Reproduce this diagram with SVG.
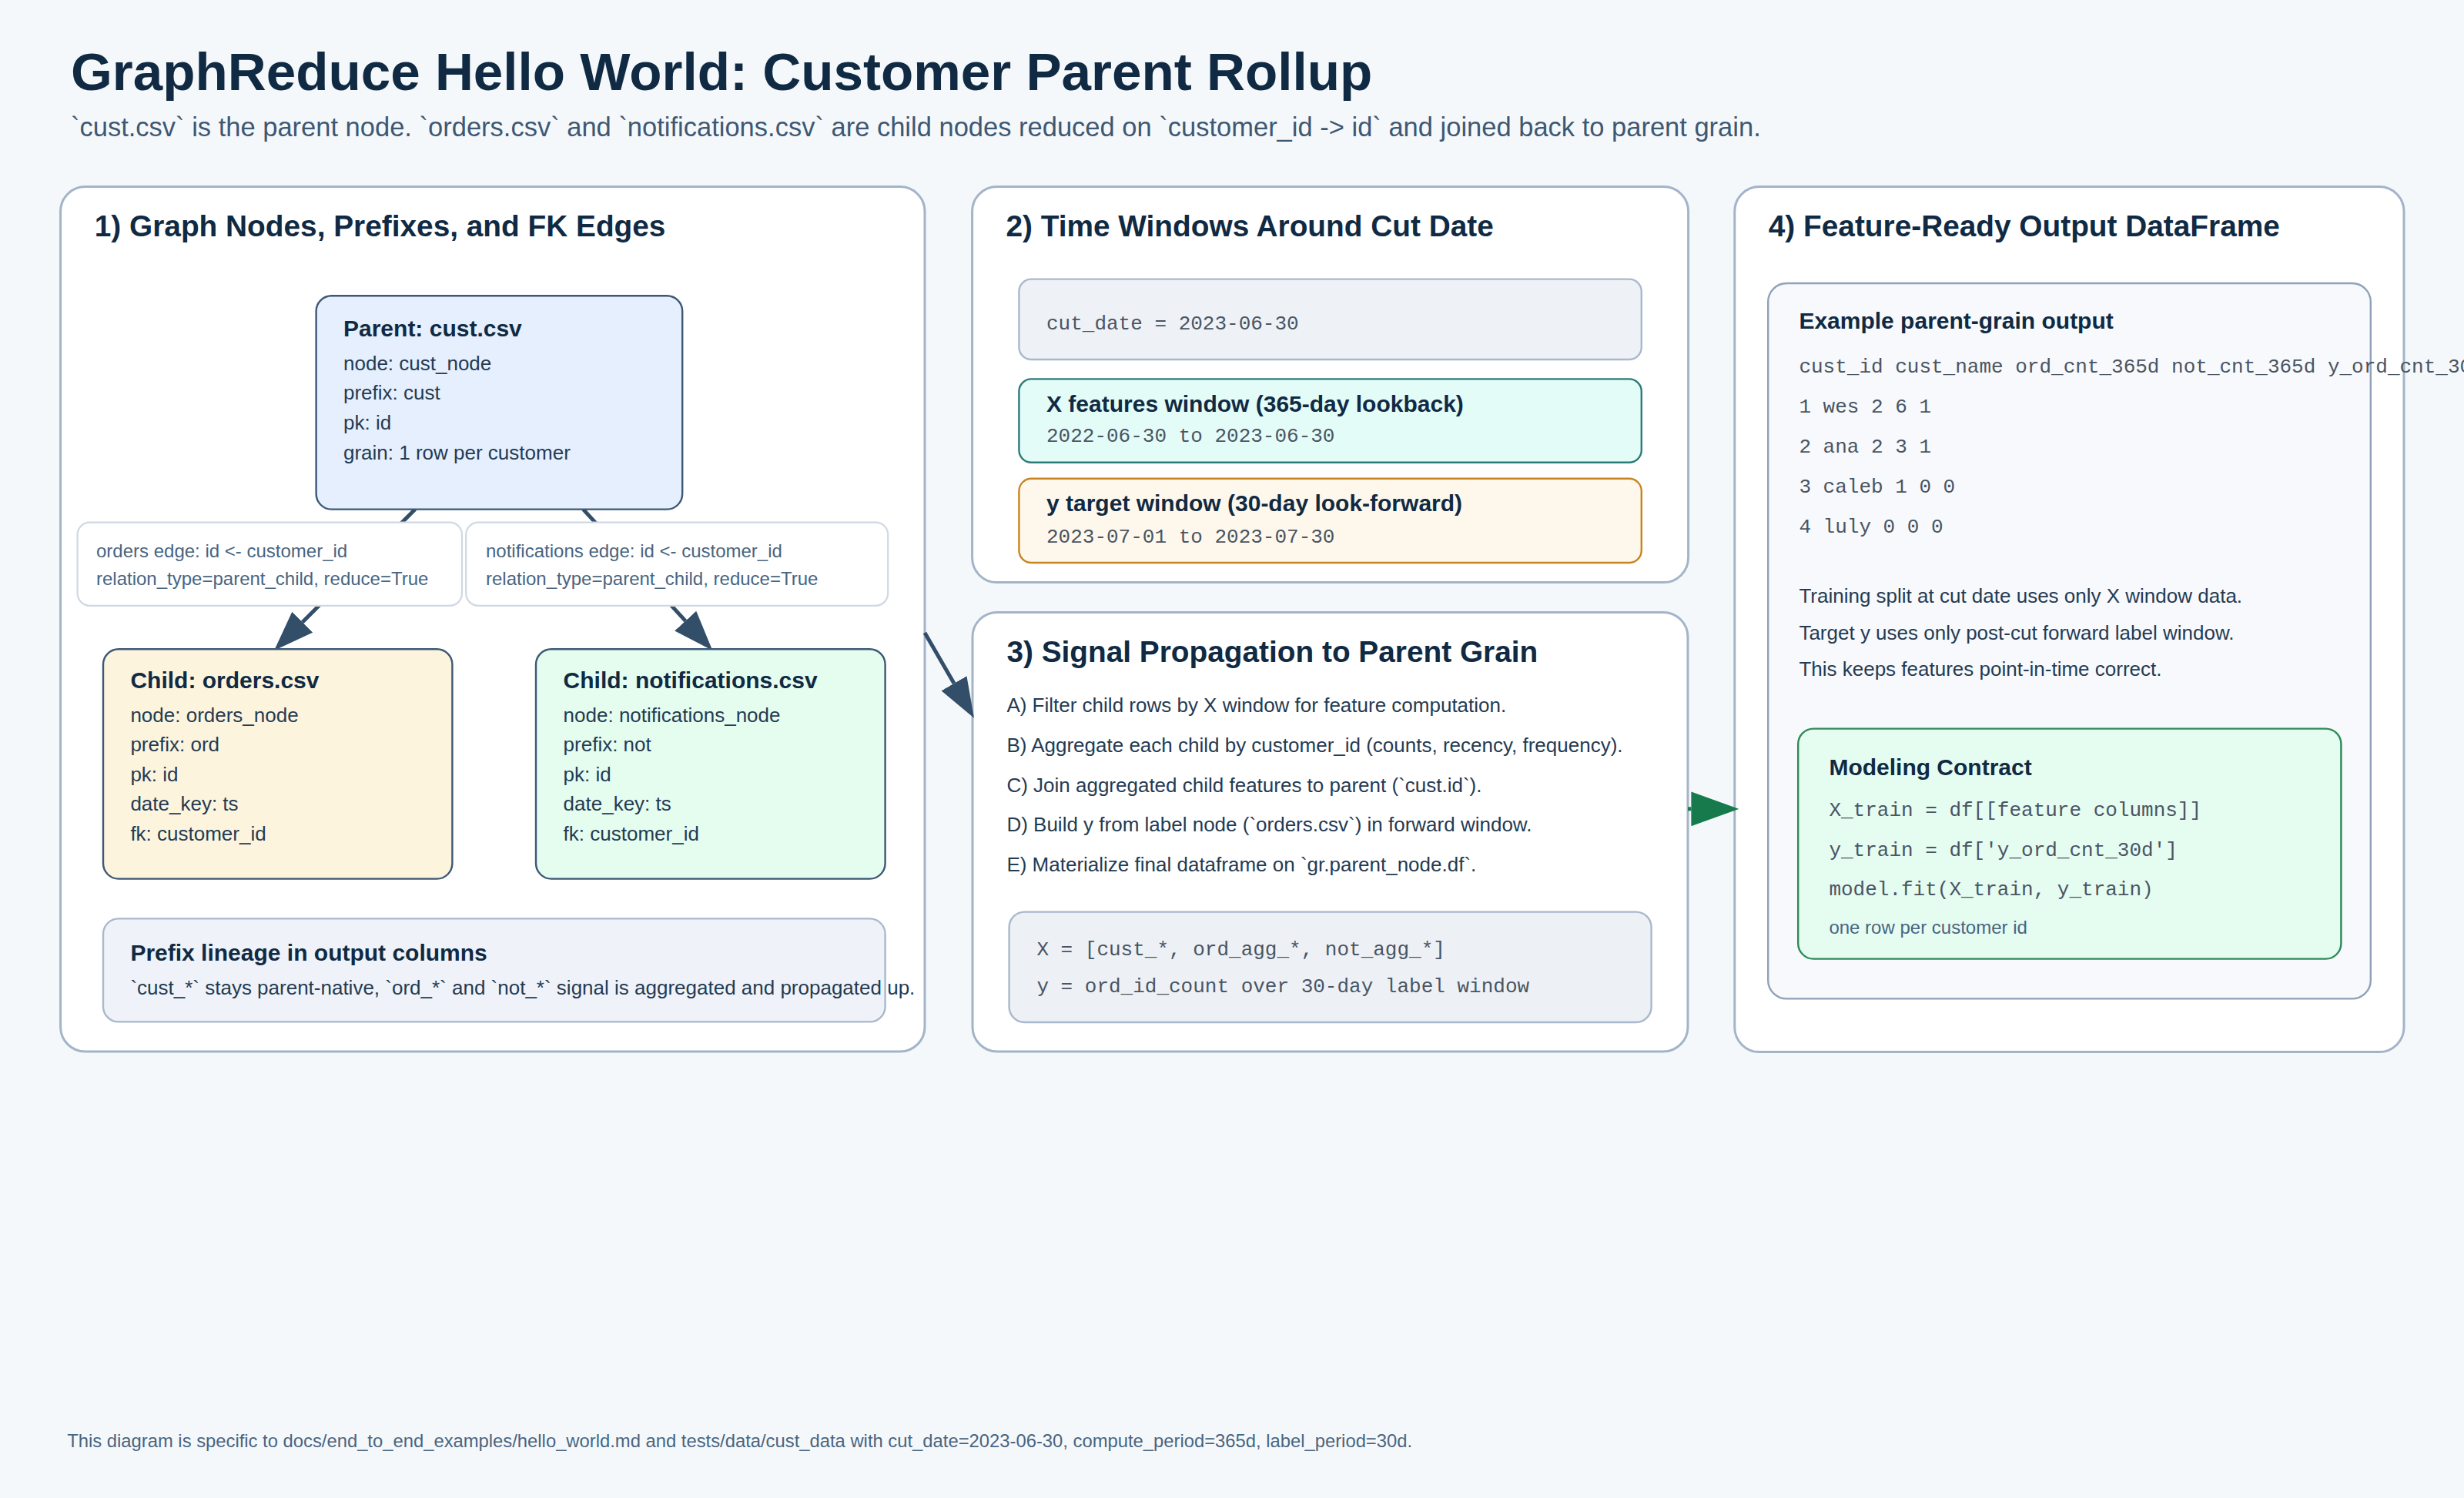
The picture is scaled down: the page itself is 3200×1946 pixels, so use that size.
<svg xmlns="http://www.w3.org/2000/svg" width="3200" height="1946" viewBox="0 0 3200 1946">
<defs>
<style>
.bg{fill:#f5f8fb}
.panel{fill:#ffffff;stroke:#a3b4c9;stroke-width:1.5}
.node{stroke:#3d5875;stroke-width:1.2}
.lbl{fill:#ffffff;stroke:#cfd8e3;stroke-width:1.1}
.soft{stroke:#a9b8cb;stroke-width:1.2}
.t{font-family:"Liberation Sans",Arial,sans-serif}
.m{font-family:"Liberation Mono","Courier New",monospace;font-size:13px;fill:#4a5563}
.title{font-size:34.6px;font-weight:bold;fill:#102a43}
.sub{font-size:17.25px;fill:#3e5874}
.h{font-size:19.4px;font-weight:bold;fill:#102a43}
.nt{font-size:15px;font-weight:bold;fill:#102a43}
.b{font-size:13px;fill:#243b53}
.e{font-size:12px;fill:#486581}
.foot{font-size:11.9px;fill:#486581}
.conn{fill:none;stroke:#334e68;stroke-width:2.5}
.conng{fill:none;stroke:#167a4c;stroke-width:2.5}
</style>
<marker id="ad" markerUnits="userSpaceOnUse" markerWidth="26" markerHeight="19" refX="0" refY="9.5" orient="auto" viewBox="0 0 26 19">
<path d="M0,0 L26,9.5 L0,19 Z" fill="#334e68"/>
</marker>
<marker id="ag" markerUnits="userSpaceOnUse" markerWidth="31" markerHeight="22.4" refX="0" refY="11.2" orient="auto" viewBox="0 0 31 22.4">
<path d="M0,0 L31,11.2 L0,22.4 Z" fill="#167a4c"/>
</marker>
</defs>
<g transform="scale(2)">
<rect class="bg" x="0" y="0" width="1600" height="973"/>
<g id="header">
<text class="t title" x="46" y="58.3">GraphReduce Hello World: Customer Parent Rollup</text>
<text class="t sub" x="46" y="88.3">`cust.csv` is the parent node. `orders.csv` and `notifications.csv` are child nodes reduced on `customer_id -&gt; id` and joined back to parent grain.</text>
</g>
<g id="panel1">
<rect class="panel" x="39.3" y="121.3" width="561.2" height="561.7" rx="16"/>
<text class="t h" x="61.4" y="153.3">1) Graph Nodes, Prefixes, and FK Edges</text>
</g>
<g id="panel2">
<rect class="panel" x="631.3" y="121.3" width="465" height="257" rx="16"/>
<text class="t h" x="653.2" y="153.3">2) Time Windows Around Cut Date</text>
</g>
<g id="panel3">
<rect class="panel" x="631.5" y="397.7" width="464.5" height="285.3" rx="16"/>
<text class="t h" x="653.7" y="430.2">3) Signal Propagation to Parent Grain</text>
</g>
<g id="panel4">
<rect class="panel" x="1126.4" y="121.3" width="434.6" height="562" rx="16"/>
<text class="t h" x="1148.4" y="153.3">4) Feature-Ready Output DataFrame</text>
</g>
<g id="connectors">
<line class="conn" x1="269.6" y1="330.8" x2="196.4" y2="404.1" marker-end="url(#ad)"/>
<line class="conn" x1="378.7" y1="330.8" x2="445.1" y2="403.3" marker-end="url(#ad)"/>
<line class="conn" x1="600.5" y1="411" x2="619.5" y2="443.9" marker-end="url(#ad)"/>
<line class="conng" x1="1096" y1="525.4" x2="1098.2" y2="525.4" marker-end="url(#ag)"/>
</g>
<g id="parent-node">
<rect class="node" x="205.3" y="192.1" width="237.8" height="138.7" rx="10" fill="#e5effd"/>
<text class="t nt" x="223" y="218.3">Parent: cust.csv</text>
<text class="t b" x="223" y="240.3">node: cust_node</text>
<text class="t b" x="223" y="259.6">prefix: cust</text>
<text class="t b" x="223" y="279">pk: id</text>
<text class="t b" x="223" y="298.7">grain: 1 row per customer</text>
</g>
<g id="orders-edge-label">
<rect class="lbl" x="50.3" y="339.3" width="249.7" height="54.1" rx="8"/>
<text class="t e" x="62.5" y="361.8">orders edge: id &lt;- customer_id</text>
<text class="t e" x="62.5" y="380">relation_type=parent_child, reduce=True</text>
</g>
<g id="notifications-edge-label">
<rect class="lbl" x="302.6" y="339.3" width="274" height="54.1" rx="8"/>
<text class="t e" x="315.5" y="361.8">notifications edge: id &lt;- customer_id</text>
<text class="t e" x="315.5" y="380">relation_type=parent_child, reduce=True</text>
</g>
<g id="orders-node">
<rect class="node" x="67" y="421.6" width="226.7" height="149.2" rx="10" fill="#fdf4de"/>
<text class="t nt" x="84.7" y="447">Child: orders.csv</text>
<text class="t b" x="84.7" y="468.8">node: orders_node</text>
<text class="t b" x="84.7" y="488">prefix: ord</text>
<text class="t b" x="84.7" y="507.3">pk: id</text>
<text class="t b" x="84.7" y="526.7">date_key: ts</text>
<text class="t b" x="84.7" y="546">fk: customer_id</text>
</g>
<g id="notifications-node">
<rect class="node" x="348" y="421.6" width="226.8" height="149.2" rx="10" fill="#e5fdef"/>
<text class="t nt" x="365.8" y="447">Child: notifications.csv</text>
<text class="t b" x="365.8" y="468.8">node: notifications_node</text>
<text class="t b" x="365.8" y="488">prefix: not</text>
<text class="t b" x="365.8" y="507.3">pk: id</text>
<text class="t b" x="365.8" y="526.7">date_key: ts</text>
<text class="t b" x="365.8" y="546">fk: customer_id</text>
</g>
<g id="prefix-lineage">
<rect class="soft" x="67" y="596.7" width="507.8" height="67" rx="10" fill="#eff3f9"/>
<text class="t nt" x="84.7" y="623.8">Prefix lineage in output columns</text>
<text class="t b" x="84.7" y="645.8">`cust_*` stays parent-native, `ord_*` and `not_*` signal is aggregated and propagated up.</text>
</g>
<g id="cut-date">
<rect class="soft" x="661.7" y="181.3" width="404.2" height="52.2" rx="8" fill="#eef2f7"/>
<text class="m" x="679.5" y="214">cut_date = 2023-06-30</text>
</g>
<g id="x-window">
<rect x="661.7" y="246.2" width="404.2" height="54.2" rx="8" fill="#e4fcf8" stroke="#2b7b78" stroke-width="1.2"/>
<text class="t nt" x="679.5" y="267.4">X features window (365-day lookback)</text>
<text class="m" x="679.5" y="287.2">2022-06-30 to 2023-06-30</text>
</g>
<g id="y-window">
<rect x="661.7" y="310.9" width="404.2" height="54.6" rx="8" fill="#fef8ec" stroke="#c8841f" stroke-width="1.2"/>
<text class="t nt" x="679.5" y="332">y target window (30-day look-forward)</text>
<text class="m" x="679.5" y="352.3">2023-07-01 to 2023-07-30</text>
</g>
<g id="propagation-steps">
<text class="t b" x="653.7" y="462.7">A) Filter child rows by X window for feature computation.</text>
<text class="t b" x="653.7" y="488.5">B) Aggregate each child by customer_id (counts, recency, frequency).</text>
<text class="t b" x="653.7" y="514.4">C) Join aggregated child features to parent (`cust.id`).</text>
<text class="t b" x="653.7" y="540.2">D) Build y from label node (`orders.csv`) in forward window.</text>
<text class="t b" x="653.7" y="566">E) Materialize final dataframe on `gr.parent_node.df`.</text>
</g>
<g id="xy-code">
<rect class="soft" x="655.3" y="592.3" width="417" height="71.7" rx="10" fill="#edf1f6"/>
<text class="m" x="673.2" y="620.6">X = [cust_*, ord_agg_*, not_agg_*]</text>
<text class="m" x="673.2" y="644.5">y = ord_id_count over 30-day label window</text>
</g>
<g id="example-output">
<rect x="1148.1" y="184" width="391.3" height="464.7" rx="12" fill="#f7f9fc" stroke="#8fa2b9" stroke-width="1.2"/>
<text class="t nt" x="1168.2" y="213.7">Example parent-grain output</text>
<text class="m" x="1168.2" y="241.8">cust_id cust_name ord_cnt_365d not_cnt_365d y_ord_cnt_30d</text>
<text class="m" x="1168.2" y="267.9">1 wes 2 6 1</text>
<text class="m" x="1168.2" y="293.9">2 ana 2 3 1</text>
<text class="m" x="1168.2" y="319.9">3 caleb 1 0 0</text>
<text class="m" x="1168.2" y="345.9">4 luly 0 0 0</text>
<text class="t b" x="1168.2" y="391.5">Training split at cut date uses only X window data.</text>
<text class="t b" x="1168.2" y="415.3">Target y uses only post-cut forward label window.</text>
<text class="t b" x="1168.2" y="439.2">This keeps features point-in-time correct.</text>
</g>
<g id="modeling-contract">
<rect x="1167.6" y="473.3" width="352.6" height="149.5" rx="10" fill="#e5fcf1" stroke="#2e8a59" stroke-width="1.2"/>
<text class="t nt" x="1187.7" y="503.3">Modeling Contract</text>
<text class="m" x="1187.7" y="530">X_train = df[[feature columns]]</text>
<text class="m" x="1187.7" y="555.8">y_train = df['y_ord_cnt_30d']</text>
<text class="m" x="1187.7" y="581.7">model.fit(X_train, y_train)</text>
<text class="t e" x="1187.7" y="606.7">one row per customer id</text>
</g>
<g id="footer">
<text class="t foot" x="43.6" y="940">This diagram is specific to docs/end_to_end_examples/hello_world.md and tests/data/cust_data with cut_date=2023-06-30, compute_period=365d, label_period=30d.</text>
</g>
</g>
</svg>
